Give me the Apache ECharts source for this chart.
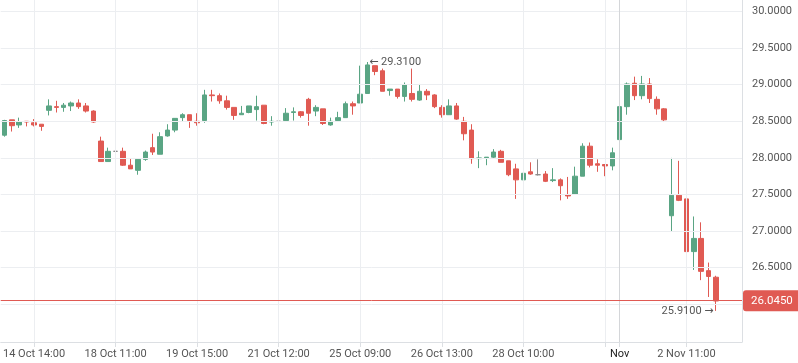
<!DOCTYPE html>
<html>
<head>
<meta charset="utf-8">
<script src="https://cdn.jsdelivr.net/npm/echarts@6/dist/echarts.min.js"></script>
<style>html,body{margin:0;padding:0;background:#fff}#c{width:798px;height:363px}</style>
</head>
<body>
<div id="c"></div>
<script>
// candle slots on the x axis (last 3 are empty space on the right)
const slotCount = 100;
const categories = Array.from({length: slotCount}, (_, i) => String(i));
// x-axis tick labels and their slot positions
const xTickIdx = [4, 15, 26, 37, 48, 59, 70, 81, 92];
const xTickLabels = ['14 Oct 14:00', '18 Oct 11:00', '19 Oct 15:00', '21 Oct 12:00', '25 Oct 09:00', '26 Oct 13:00', '28 Oct 10:00', '', '2 Nov 11:00'];
const monthIdx = 83;
const monthLabel = 'Nov';
// y-axis tick values
const yTicks = [26.0, 26.5, 27.0, 27.5, 28.0, 28.5, 29.0, 29.5, 30.0];
// OHLC values
const opens = [28.31,28.52,28.45,28.50,28.48,28.46,28.65,28.70,28.69,28.71,28.75,28.71,28.64,28.23,27.95,28.09,28.09,27.90,27.83,27.98,28.14,28.05,28.30,28.38,28.55,28.59,28.50,28.51,28.86,28.85,28.78,28.69,28.59,28.62,28.66,28.72,28.49,28.50,28.51,28.62,28.63,28.80,28.64,28.67,28.45,28.51,28.55,28.74,28.75,28.88,29.26,29.19,28.92,28.94,28.84,28.88,28.79,28.91,28.86,28.69,28.59,28.71,28.50,28.38,27.99,28.00,28.01,28.09,27.96,27.85,27.70,27.81,27.77,27.78,27.69,27.70,27.50,27.50,27.75,28.16,27.92,27.91,27.89,28.25,28.70,29.02,28.85,29.01,28.80,28.67,27.21,27.49,27.44,26.72,26.90,26.46,26.37];
const closes = [28.51,28.44,28.49,28.49,28.45,28.43,28.71,28.69,28.72,28.75,28.70,28.64,28.49,27.95,28.09,28.09,27.90,27.85,27.98,28.08,28.08,28.29,28.38,28.54,28.59,28.51,28.48,28.86,28.85,28.78,28.69,28.58,28.61,28.71,28.70,28.47,28.50,28.50,28.61,28.63,28.58,28.61,28.69,28.47,28.50,28.55,28.74,28.71,28.87,29.27,29.18,28.91,28.94,28.84,29.00,28.80,28.91,28.86,28.70,28.59,28.71,28.53,28.33,27.99,28.00,28.01,28.08,27.94,27.77,27.70,27.79,27.78,27.77,27.68,27.70,27.62,27.48,27.75,28.16,27.90,27.90,27.89,28.07,28.70,29.01,28.85,29.01,28.81,28.67,28.52,27.49,27.42,26.72,26.90,26.45,26.38,26.045];
const lows = [28.29,28.36,28.41,28.43,28.43,28.37,28.58,28.62,28.63,28.64,28.67,28.62,28.48,27.95,27.95,28.09,27.89,27.85,27.77,27.96,28.04,28.05,28.29,28.35,28.49,28.41,28.44,28.48,28.77,28.74,28.66,28.52,28.59,28.61,28.51,28.46,28.44,28.50,28.51,28.51,28.55,28.44,28.57,28.45,28.44,28.51,28.55,28.59,28.75,28.88,29.13,28.91,28.85,28.81,28.77,28.77,28.78,28.79,28.68,28.55,28.59,28.52,28.24,27.92,27.86,27.90,27.99,27.94,27.75,27.44,27.64,27.77,27.76,27.67,27.67,27.42,27.44,27.50,27.75,27.87,27.81,27.75,27.83,28.18,28.59,28.79,28.80,28.75,28.59,28.49,26.99,27.41,26.57,26.47,26.33,26.10,25.91];
const highs = [28.52,28.52,28.55,28.50,28.53,28.46,28.80,28.78,28.75,28.77,28.80,28.75,28.65,28.29,28.14,28.23,28.14,27.99,27.98,28.10,28.33,28.35,28.46,28.54,28.61,28.59,28.61,28.93,28.93,28.88,28.85,28.69,28.71,28.71,28.85,28.72,28.57,28.54,28.68,28.69,28.64,28.82,28.72,28.67,28.55,28.63,28.77,28.77,29.26,29.31,29.26,29.22,28.94,28.94,29.03,29.22,29.01,28.94,28.87,28.72,28.80,28.75,28.56,28.46,28.09,28.01,28.12,28.11,27.96,27.92,27.87,27.94,27.98,27.82,27.86,27.72,27.74,27.88,28.20,28.21,27.98,27.91,28.14,28.80,29.03,29.11,29.12,29.09,28.84,28.68,28.00,27.96,27.69,27.20,27.12,26.57,26.39];
const lastPrice = 26.045;
const highMark = {index: 49, value: 29.31};
const lowMark = {index: 96, value: 25.91};

const UP = '#5aa584', DOWN = '#e05a53', DOJI = '#8a8a8a';
const FONT = 'Roboto, "DejaVu Sans", sans-serif';

const candleData = opens.map((o, i) => {
  const item = {value: [o, closes[i], lows[i], highs[i]]};
  if (o === closes[i]) item.itemStyle = {color: DOJI, color0: DOJI, borderColor: DOJI, borderColor0: DOJI};
  return item;
});

const chart = echarts.init(document.getElementById('c'), null, {renderer: 'canvas'});
chart.setOption({
  animation: false,
  backgroundColor: '#fff',
  grid: {left: 0, right: 56, top: 0, bottom: 21, containLabel: false},
  xAxis: {
    type: 'category',
    data: categories,
    boundaryGap: true,
    axisLine: {show: true, lineStyle: {color: '#dcdfe3'}},
    axisTick: {show: true, alignWithLabel: true, length: 5, lineStyle: {color: '#dcdfe3'},
      interval: (i) => xTickIdx.includes(i) || i === monthIdx},
    axisLabel: {
      margin: 7, fontFamily: FONT, fontSize: 11, color: '#555',
      interval: (i) => (xTickIdx.includes(i) && xTickLabels[xTickIdx.indexOf(i)] !== '') || i === monthIdx,
      formatter: (v, i) => i === monthIdx ? '{m|' + monthLabel + '}' : xTickLabels[xTickIdx.indexOf(i)],
      rich: {m: {color: '#222', fontFamily: FONT, fontSize: 11}}
    },
    splitLine: {show: false}
  },
  yAxis: {
    type: 'value',
    position: 'right',
    min: 25.485,
    max: 30.157,
    axisLine: {show: true, lineStyle: {color: '#dcdfe3'}},
    axisTick: {show: false},
    splitLine: {show: false},
    axisLabel: {
      customValues: yTicks,
      margin: 10, fontFamily: FONT, fontSize: 11, color: '#555',
      formatter: (v) => v.toFixed(4)
    }
  },
  series: [
    {
      type: 'line', data: [], z: 1, silent: true,
      color: '#eceef1',
      itemStyle: {color: '#eceef1'},
      lineStyle: {color: '#eceef1'},
      markLine: {
        silent: true, symbol: 'none', animation: false,
        label: {show: false},
        lineStyle: {color: '#eceef1', width: 1, type: 'solid'},
        data: [
          ...xTickIdx.map(i => ({xAxis: i})),
          ...yTicks.map(v => ({yAxis: v}))
        ]
      }
    },
    {
      type: 'line', data: [], z: 1, silent: true,
      color: '#d4d6d9',
      itemStyle: {color: '#d4d6d9'},
      lineStyle: {color: '#d4d6d9'},
      markLine: {
        silent: true, symbol: 'none', animation: false,
        label: {show: false},
        lineStyle: {color: '#d4d6d9', width: 1, type: 'solid'},
        data: [{xAxis: monthIdx}]
      }
    },
    {
      type: 'candlestick',
      z: 3,
      barWidth: 5,
      data: candleData,
      itemStyle: {color: UP, color0: DOWN, borderColor: UP, borderColor0: DOWN, borderWidth: 1},
      markLine: {
        silent: true, symbol: 'none', animation: false,
        lineStyle: {color: DOWN, width: 1, type: 'solid'},
        label: {
          show: true, position: 'end', distance: 1,
          formatter: lastPrice.toFixed(4),
          backgroundColor: DOWN, color: '#fff', fontFamily: FONT, fontSize: 11.5,
          padding: [5, 9, 4, 8], borderRadius: 3
        },
        data: [{yAxis: lastPrice}]
      },
      markPoint: {
        silent: true, symbol: 'circle', symbolSize: 1, animation: false,
        itemStyle: {color: 'rgba(0,0,0,0)'},
        data: [
          {coord: [highMark.index, highMark.value],
           label: {show: true, position: 'right', distance: 1, formatter: '{a|\u2190} ' + highMark.value.toFixed(4), color: '#555', fontFamily: FONT, fontSize: 11,
             rich: {a: {fontFamily: '"DejaVu Sans"', fontSize: 11, color: '#555'}}}},
          {coord: [lowMark.index, lowMark.value],
           label: {show: true, position: 'left', distance: 2, formatter: lowMark.value.toFixed(4) + ' {a|\u2192}', color: '#555', fontFamily: FONT, fontSize: 11,
             rich: {a: {fontFamily: '"DejaVu Sans"', fontSize: 11, color: '#555'}}}}
        ]
      }
    }
  ]
});
</script>
</body>
</html>
